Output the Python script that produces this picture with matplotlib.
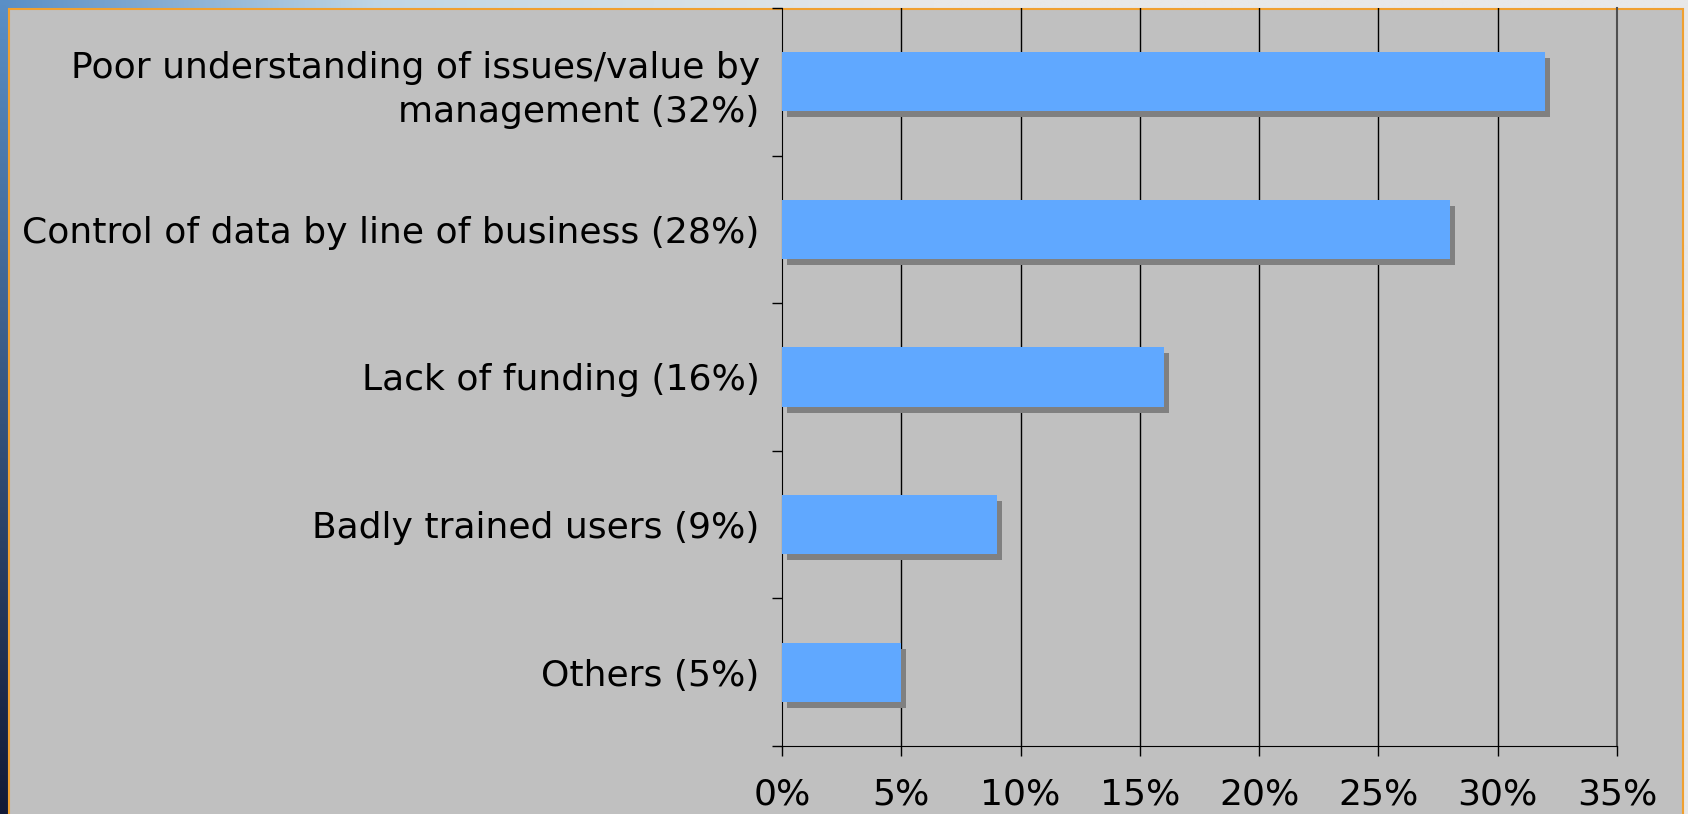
import numpy as np
import matplotlib
matplotlib.use("Agg")
import matplotlib.pyplot as plt
from matplotlib.patches import Rectangle
from matplotlib.transforms import offset_copy
import matplotlib.colors as mcolors

categories = [
    "Poor understanding of issues/value by\nmanagement (32%)",
    "Control of data by line of business (28%)",
    "Lack of funding (16%)",
    "Badly trained users (9%)",
    "Others (5%)",
]
values = [32, 28, 16, 9, 5]
xticks = [0, 5, 10, 15, 20, 25, 30, 35]
xticklabels = ["0%", "5%", "10%", "15%", "20%", "25%", "30%", "35%"]

W, H = 1688, 814
fig = plt.figure(figsize=(W / 100, H / 100), dpi=100)

# background gradient (slide backdrop)
bg = fig.add_axes([0, 0, 1, 1])
bg.set_axis_off()
tl = np.array(mcolors.to_rgb("#5a8fc6"))
tm = np.array(mcolors.to_rgb("#c0d6e4"))
tr = np.array(mcolors.to_rgb("#e8e8e8"))
bl = np.array(mcolors.to_rgb("#131a36"))
ny, nx = 80, 160
u = np.linspace(0, 1, nx)[None, :, None]
v = np.linspace(0, 1, ny)[:, None, None]
a = np.clip(u * 4.5, 0, 1)
b = np.clip((u - 0.22) * 3, 0, 1)
top = (1 - a) * tl + a * tm
top = (1 - b) * top + b * tr
bottom = (1 - a) * bl + a * tr
img = (1 - v) * top + v * bottom
bg.imshow(img, extent=[0, 1, 0, 1], aspect="auto", interpolation="bilinear")
bg.set_xlim(0, 1)
bg.set_ylim(0, 1)

panel = Rectangle((9 / W, -0.05), (1683 - 9) / W, (H - 9) / H + 0.05,
                  transform=fig.transFigure, facecolor="#c0c0c0",
                  edgecolor="#f0a030", linewidth=1.5, zorder=1)
fig.patches.append(panel)

ax = fig.add_axes([782 / W, (H - 746) / H, (1617 - 782) / W, (746 - 8) / H])
ax.set_facecolor("none")
ax.set_zorder(2)

y = np.arange(len(categories))
shadow_tr = offset_copy(ax.transData, fig=fig, x=5, y=-6, units="dots")
ax.barh(y, values, height=0.4, color="#808080", transform=shadow_tr, zorder=2)
ax.barh(y, values, height=0.4, color="#60a8ff", zorder=3)

ax.set_xlim(0, 35)
ax.set_ylim(4.5, -0.5)

ax.set_xticks(xticks)
ax.set_xticklabels(xticklabels, fontsize=26)
for xv in xticks[1:-1]:
    ax.axvline(xv, color="black", lw=1.0, zorder=1)

ax.set_yticks(np.arange(-0.5, len(categories), 1.0))
ax.set_yticklabels([])
ax.set_yticks(y, minor=True)
ax.set_yticklabels(categories, minor=True, fontsize=26, multialignment="right",
                   linespacing=1.35)
ax.tick_params(axis="y", which="major", direction="out", length=7.5, width=1, color="black")
ax.tick_params(axis="y", which="minor", length=0, pad=16)
ax.tick_params(axis="x", direction="out", length=7.5, width=1, pad=15, color="black")

ax.spines["top"].set_visible(False)
ax.spines["right"].set_color("#505050")
ax.spines["right"].set_linewidth(1.5)
ax.spines["left"].set_color("black")
ax.spines["bottom"].set_color("black")

fig.savefig("out.png", dpi=100)
